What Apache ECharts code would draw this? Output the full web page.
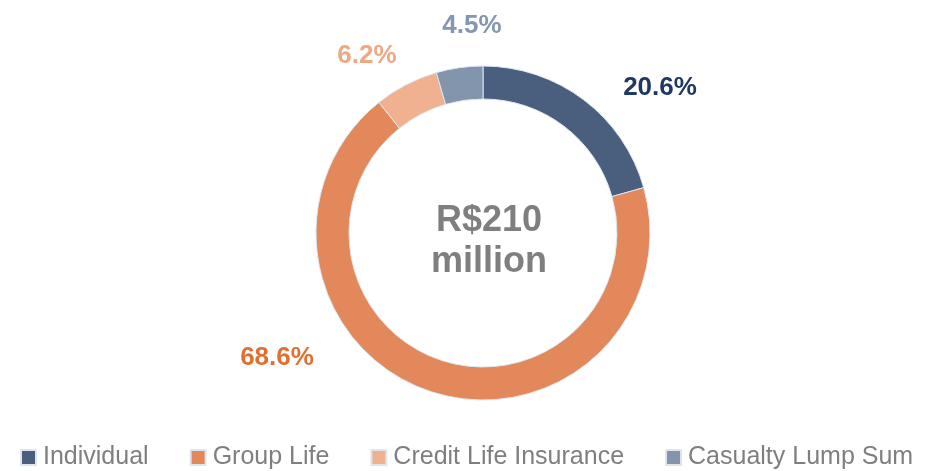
<!DOCTYPE html>
<html>
<head>
<meta charset="utf-8">
<script src="https://cdn.jsdelivr.net/npm/echarts@6/dist/echarts.min.js"></script>
<style>
  html, body { margin: 0; padding: 0; background: #fff; }
  #chart { width: 935px; height: 471px; }
</style>
</head>
<body>
<div id="chart"></div>
<script>
// segments of the total, clockwise from 12 o'clock
const categories = ['Individual', 'Group Life', 'Credit Life Insurance', 'Casualty Lump Sum'];
const shares = [20.6, 68.6, 6.2, 4.5];
const sliceColors = ['#4a5f7e', '#e2885a', '#efb18f', '#8394ad'];
const labelColors = ['#1f3864', '#e0702f', '#efa882', '#8596b0'];
const centerText = 'R$210\nmillion';

// where Excel put the data labels (px)
const labelSpots = [[660, 88], [277, 358], [367, 56], [472, 26]];

const chart = echarts.init(document.getElementById('chart'));

const option = {
  animation: false,
  color: sliceColors,
  textStyle: { fontFamily: 'Liberation Sans, Arial, sans-serif' },
  title: {
    text: centerText,
    left: 484,
    top: 196,
    textAlign: 'center',
    textStyle: {
      fontSize: 36,
      fontWeight: 'bold',
      color: '#7f7f7f',
      lineHeight: 41,
      fontFamily: 'Liberation Sans, Arial, sans-serif'
    }
  },
  legend: {
    top: 445,
    left: 20,
    padding: 0,
    itemWidth: 15,
    itemHeight: 15,
    itemGap: 41,
    icon: 'rect',
    textStyle: { fontSize: 25, color: '#7f7f7f', padding: [0, 0, 0, 2] },
    data: categories
  },
  series: [
    {
      type: 'pie',
      center: [483, 233],
      radius: [134, 167],
      startAngle: 90,
      clockwise: true,
      itemStyle: { borderColor: '#dde6f0', borderWidth: 1 },
      labelLine: { show: false },
      label: {
        show: true,
        position: 'outside',
        fontSize: 26,
        fontWeight: 'bold',
        formatter: p => p.value.toFixed(1) + '%'
      },
      labelLayout: params => ({
        x: labelSpots[params.dataIndex][0],
        y: labelSpots[params.dataIndex][1],
        align: 'center',
        verticalAlign: 'middle'
      }),
      data: categories.map((name, i) => ({
        name: name,
        value: shares[i],
        label: { color: labelColors[i] }
      }))
    }
  ]
};

chart.setOption(option);
</script>
</body>
</html>
